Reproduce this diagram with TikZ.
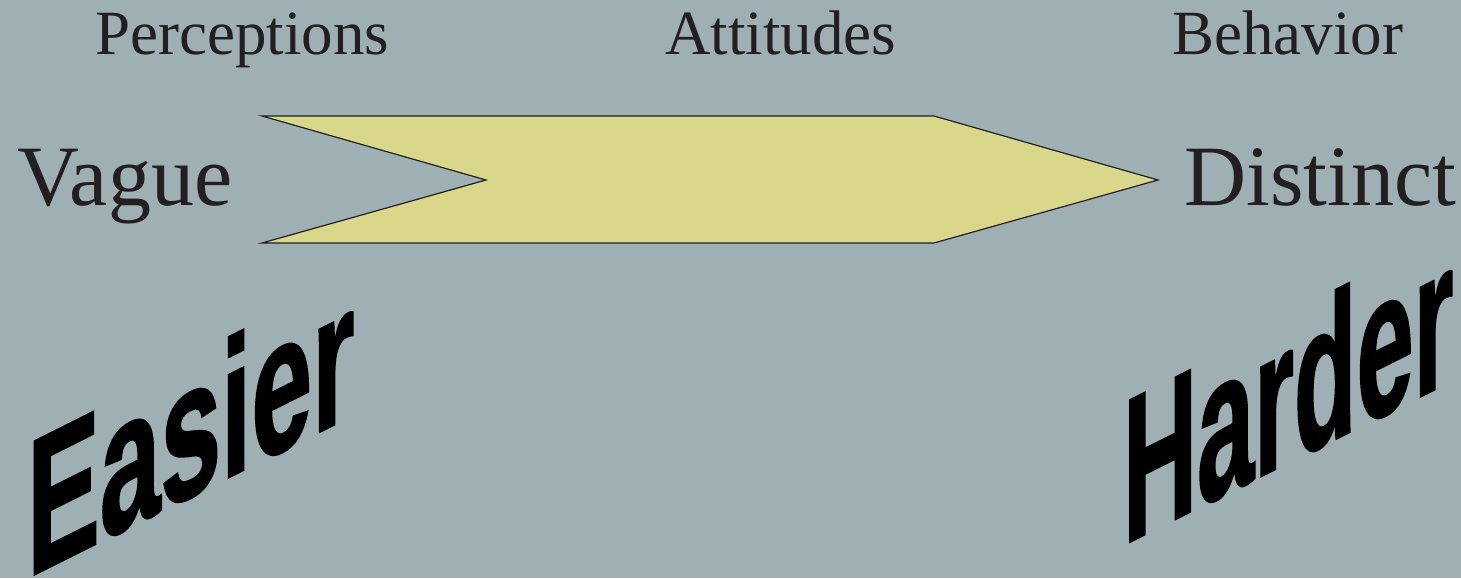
\documentclass[tikz,border=0pt]{standalone}
\usepackage{fontspec}
\setmainfont{Liberation Serif}
\newfontfamily\wordart[BoldFeatures={FakeBold=1.5}]{Liberation Sans}
\definecolor{bgc}{HTML}{9FB0B4}
\definecolor{arrowfill}{HTML}{D8D78A}
\definecolor{ink}{HTML}{231F20}
\tikzset{
  toplabel/.style={inner sep=0pt, anchor=base west, text=ink, font=\fontsize{63}{63}\selectfont},
  midlabel/.style={inner sep=0pt, anchor=base west, text=ink, font=\fontsize{86}{86}\selectfont},
  wordartlabel/.style={inner sep=0pt, anchor=base west, text=black, transform shape},
  chevron/.style={fill=arrowfill, draw=ink, line width=1.2pt, line join=miter}
}
\begin{document}
\begin{tikzpicture}[x=1pt,y=-1pt]
\fill[bgc] (0,0) rectangle (1461,578);
\useasboundingbox (0,0) rectangle (1461,578);

\node[toplabel] (perc) at (95,55) {Perceptions};
\node[toplabel] (att) at (665,55) {Attitudes};
\node[toplabel] (beh) at (1172,55) {Behavior};

\node[midlabel] (vague) at (17,205) {Vague};
\node[midlabel] (dist) at (1184,205) {Distinct};

\coordinate (tl) at (262,116);
\coordinate (notch) at (486,180);
\coordinate (bl) at (262,243);
\coordinate (tr) at (934,116);
\coordinate (tip) at (1158,180);
\coordinate (br) at (934,243);
\draw[chevron] (tl) -- (tr) -- (tip) -- (br) -- (bl) -- (notch) -- cycle;

\begin{scope}[shift={(27,578)}, yslant=0.5]
  \node[wordartlabel, xscale=0.565, font=\wordart\bfseries\fontsize{193}{193}\selectfont] (easier) at (0,0) {Easier};
\end{scope}
\begin{scope}[shift={(1123,545)}, yslant=0.5]
  \node[wordartlabel, xscale=0.50, font=\wordart\bfseries\fontsize{205}{205}\selectfont] (harder) at (0,0) {Harder};
\end{scope}
\end{tikzpicture}
\end{document}
